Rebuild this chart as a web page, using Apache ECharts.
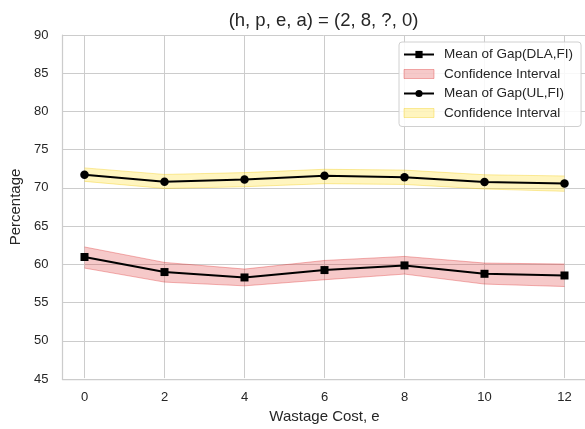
<!DOCTYPE html>
<html>
<head>
<meta charset="utf-8">
<script src="https://cdn.jsdelivr.net/npm/echarts@6/dist/echarts.min.js"></script>
<style>
  html, body { margin: 0; padding: 0; background: #ffffff; }
  #chart { width: 585px; height: 429px; }
</style>
</head>
<body>
<div id="chart"></div>
<script>
// Wastage cost values on the x axis
var wastageCost = ['0', '2', '4', '6', '8', '10', '12'];

// Gap(DLA,FI): mean and confidence bounds
var dlaMean  = [60.88, 58.91, 58.20, 59.17, 59.78, 58.68, 58.46];
var dlaLower = [59.43, 57.59, 57.10, 57.90, 58.64, 57.33, 57.01];
var dlaUpper = [62.20, 60.17, 59.30, 60.43, 60.96, 60.09, 59.96];

// Gap(UL,FI): mean and confidence bounds
var ulMean  = [71.67, 70.75, 71.04, 71.54, 71.34, 70.72, 70.51];
var ulLower = [70.80, 69.87, 70.10, 70.50, 70.40, 69.80, 69.50];
var ulUpper = [72.57, 71.71, 71.95, 72.39, 72.28, 71.67, 71.51];

// y tick range
var yTicks = [45, 50, 55, 60, 65, 70, 75, 80, 85, 90];

var TEXT = '#262626';
var GRID = '#cccccc';
var FONT = '"Liberation Sans", Arial, sans-serif';

var redFill = 'rgba(220,40,40,0.25)';
var redEdge = 'rgba(220,40,40,0.35)';
var yelFill = 'rgba(255,215,0,0.25)';
var yelEdge = 'rgba(240,200,0,0.35)';

function widths(lo, hi) {
  return lo.map(function (v, i) { return +(hi[i] - v).toFixed(4); });
}

// confidence band: lower edge line + stacked width with filled area
function bandSeries(name, stack, lo, hi, fill, edge) {
  return [
    {
      name: name + '-base', type: 'line', stack: stack,
      xAxisIndex: 1, yAxisIndex: 1,
      data: lo,
      symbol: 'none', silent: true,
      lineStyle: { color: edge, width: 1 },
      z: 2
    },
    {
      name: name, type: 'line', stack: stack,
      xAxisIndex: 1, yAxisIndex: 1,
      data: widths(lo, hi),
      symbol: 'none', silent: true,
      itemStyle: { color: fill },
      lineStyle: { color: edge, width: 1 },
      areaStyle: { color: fill, opacity: 1 },
      z: 2
    }
  ];
}

var chart = echarts.init(document.getElementById('chart'), null, { renderer: 'canvas' });

var option = {
  animation: false,
  backgroundColor: '#ffffff',
  textStyle: { fontFamily: FONT, color: TEXT },
  title: {
    text: '(h, p, e, a) = (2, 8, ?, 0)',
    left: 318.5, textAlign: 'center',
    top: 6,
    textStyle: { fontFamily: FONT, fontSize: 18.5, fontWeight: 'normal', color: TEXT }
  },
  legend: {
    orient: 'vertical',
    left: 399, top: 42,
    padding: [5, 8, 6, 4],
    itemWidth: 30, itemHeight: 9,
    itemGap: 4.5,
    backgroundColor: 'rgba(255,255,255,0.85)',
    borderColor: '#d0d0d0', borderWidth: 1, borderRadius: 3,
    textStyle: { fontFamily: FONT, fontSize: 13.5, color: TEXT, lineHeight: 15, padding: [0, 0, 0, 5] },
    formatter: function (n) {
      return (n === 'ciDLA' || n === 'ciUL') ? 'Confidence Interval' : n;
    },
    data: [
      { name: 'Mean of Gap(DLA,FI)' },
      { name: 'ciDLA', icon: 'rect', itemStyle: { color: redFill, borderColor: redEdge, borderWidth: 1 } },
      { name: 'Mean of Gap(UL,FI)' },
      { name: 'ciUL', icon: 'rect', itemStyle: { color: yelFill, borderColor: yelEdge, borderWidth: 1 } }
    ]
  },
  grid: [
    // full plotting area (spines and horizontal grid)
    { left: 60.5, right: -3.5, top: 35, bottom: 50 },
    // data area spanning the first to last wastage cost
    { left: 84.5, right: 20.5, top: 35, bottom: 50 }
  ],
  xAxis: [
    {
      gridIndex: 0, type: 'value', min: 0, max: 1,
      axisLine: { show: true, lineStyle: { color: GRID, width: 1.25 } },
      axisTick: { show: false }, axisLabel: { show: false },
      splitLine: { show: false }
    },
    {
      gridIndex: 1, type: 'category', data: wastageCost, boundaryGap: false,
      axisLine: { show: false }, axisTick: { show: false },
      axisLabel: { show: true, interval: 0, fontFamily: FONT, fontSize: 13, color: TEXT, margin: 13 },
      splitLine: { show: true, interval: 0, lineStyle: { color: GRID, width: 1 } },
      name: 'Wastage Cost, e', nameLocation: 'middle', nameGap: 23,
      nameTextStyle: { fontFamily: FONT, fontSize: 15, color: TEXT }
    }
  ],
  yAxis: [
    {
      gridIndex: 0, type: 'value', min: yTicks[0], max: yTicks[yTicks.length - 1], interval: 5,
      axisLine: { show: true, lineStyle: { color: GRID, width: 1.25 } },
      axisTick: { show: false },
      axisLabel: { show: true, fontFamily: FONT, fontSize: 13, color: TEXT, margin: 14 },
      splitLine: { show: true, lineStyle: { color: GRID, width: 1 } },
      name: 'Percentage', nameLocation: 'middle', nameGap: 29,
      nameTextStyle: { fontFamily: FONT, fontSize: 15, color: TEXT }
    },
    {
      gridIndex: 1, type: 'value', min: yTicks[0], max: yTicks[yTicks.length - 1], interval: 5,
      axisLine: { show: false }, axisTick: { show: false }, axisLabel: { show: false },
      splitLine: { show: false }
    }
  ],
  series: [].concat(
    bandSeries('ciDLA', 'dla', dlaLower, dlaUpper, redFill, redEdge),
    bandSeries('ciUL', 'ul', ulLower, ulUpper, yelFill, yelEdge),
    [
      {
        name: 'Mean of Gap(DLA,FI)', type: 'line',
        xAxisIndex: 1, yAxisIndex: 1,
        data: dlaMean,
        symbol: 'rect', symbolSize: 8,
        itemStyle: { color: '#000000' },
        lineStyle: { color: '#000000', width: 2 },
        z: 5
      },
      {
        name: 'Mean of Gap(UL,FI)', type: 'line',
        xAxisIndex: 1, yAxisIndex: 1,
        data: ulMean,
        symbol: 'circle', symbolSize: 8.5,
        itemStyle: { color: '#000000' },
        lineStyle: { color: '#000000', width: 2 },
        z: 5
      }
    ]
  )
};

chart.setOption(option);
</script>
</body>
</html>
